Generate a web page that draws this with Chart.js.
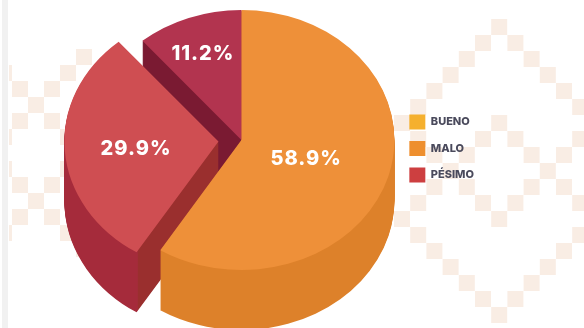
<!DOCTYPE html>
<html>
<head>
<meta charset="utf-8">
<style>
  html, body { margin: 0; padding: 0; background: #fff; }
  #wrap { width: 584px; height: 328px; position: relative; overflow: hidden; }
</style>
<script src="https://cdn.jsdelivr.net/npm/chart.js@4"></script>
</head>
<body>
<div id="wrap"><canvas id="pieChart" width="584" height="328"></canvas></div>
<script>
const labels = ['BUENO', 'MALO', 'PÉSIMO'];
const values = [58.9, 29.9, 11.2];
const sliceColors = ['#ee9039', '#cf4e52', '#b2344f'];
const sideColors = ['#dd812a', '#a52b3b', '#7a1a32'];
const cutColors = ['#dd812a', '#9a2f2e', '#7a1a32'];
const legendColors = ['#f5b02e', '#ee8f2e', '#cd3f40'];
const labelRadius = [0.44, 0.54, 0.73];
const explode = [0, 92, 0];

// background diamonds, [column, row] on a 16px grid
const rightCells = [[6,0],[5,1],[7,1],[4,2],[8,2],[3,3],[9,3],[2,4],[10,4],[1,5],[11,5],[0,6],[6,6],[1,7],[5,7],[7,7],[11,7],
  [2,8],[4,8],[8,8],[10,8],[3,9],[9,9],[2,10],[4,10],[8,10],[10,10],[1,11],[5,11],[7,11],[11,11],[0,12],[6,12],
  [1,13],[11,13],[2,14],[10,14],[3,15],[9,15],[4,16],[8,16],[5,17],[7,17],[6,18]];
const leftCells = [[5,2],[4,3],[0,3],[3,4],[1,4],[2,5],[3,6],[1,6],[0,7],[4,7],[4,9],[0,9],[1,10],[3,10],[2,11],[1,12],[3,12],[0,13],[4,13],[5,14]];

const squash = 0.85;
const depth = 60;
const pieCenterY = 140;

const backdrop = {
    id: 'backdrop',
    beforeDraw(chart) {
        const ctx = chart.ctx;
        ctx.save();
        ctx.fillStyle = '#f9ede4';
        rightCells.forEach(c => ctx.fillRect(394 + c[0] * 16.2, 19 + c[1] * 16, 16, 16));
        leftCells.forEach(c => {
            const x = -4 + c[0] * 16;
            ctx.fillRect(Math.max(x, 9), 17 + c[1] * 16, x < 9 ? x + 16 - 9 : 16, 16);
        });
        // grey strip down the left edge
        ctx.fillStyle = '#f1f1f1';
        ctx.fillRect(2, 0, 6, 328);
        ctx.restore();
    }
};

// squashes the pie into an ellipse and extrudes it downwards
const tilt = {
    id: 'tilt',
    beforeDatasetsDraw(chart) {
        const ctx = chart.ctx;
        const arcs = chart.getDatasetMeta(0).data;
        const cx = arcs[0].x, cy = arcs[0].y;
        ctx.save();
        ctx.translate(cx, pieCenterY);
        ctx.scale(1, squash);
        ctx.translate(-cx, -cy);
        [2, 1, 0].forEach(i => {
            const arc = arcs[i];
            const opts = arc.options;
            // outer wall and cut face meet under the slice's lower corner
            // (arc.draw applies the explode shift, so it stays out of this x)
            const cornerX = arc.x + Math.cos(arc.startAngle) * arc.outerRadius;
            const side = ctx.createLinearGradient(cornerX, 0, cornerX + 1, 0);
            side.addColorStop(0, sideColors[i]);
            side.addColorStop(1, cutColors[i]);
            arc.options = Object.assign({}, opts, { backgroundColor: side, borderWidth: 0 });
            for (let d = depth; d > 0; d--) {
                ctx.save();
                ctx.translate(0, d / squash);
                arc.draw(ctx);
                ctx.restore();
            }
            arc.options = opts;
        });
    },
    afterDatasetsDraw(chart) {
        const ctx = chart.ctx;
        ctx.restore();
        const arcs = chart.getDatasetMeta(0).data;
        ctx.save();
        ctx.fillStyle = '#fff';
        ctx.font = '800 20px Inter';
        ctx.letterSpacing = '1px';
        ctx.textAlign = 'center';
        ctx.textBaseline = 'middle';
        arcs.forEach((arc, i) => {
            const mid = (arc.startAngle + arc.endAngle) / 2;
            const r = arc.outerRadius * labelRadius[i] + explode[i] / 4;
            const x = arc.x + Math.cos(mid) * r;
            const y = pieCenterY + Math.sin(mid) * r * squash + 3;
            ctx.fillText(values[i].toFixed(1) + '%', x, y);
        });
        ctx.restore();
    }
};

new Chart(document.getElementById('pieChart'), {
    type: 'pie',
    data: {
        labels: labels,
        datasets: [{
            data: values,
            backgroundColor: sliceColors,
            borderWidth: 0,
            offset: explode,
            radius: 153,
            clip: false
        }]
    },
    options: {
        responsive: false,
        animation: false,
        layout: { padding: { left: 85, right: 100, bottom: 31 } },
        plugins: {
            tooltip: { enabled: false },
            legend: {
                position: 'right',
                labels: {
                    boxWidth: 16,
                    boxHeight: 15,
                    padding: 11.5,
                    font: { family: 'Inter', size: 11, weight: '800' },
                    generateLabels: () => labels.map((t, i) => ({
                        text: t,
                        fillStyle: legendColors[i],
                        strokeStyle: legendColors[i],
                        fontColor: '#4a4a5c',
                        lineWidth: 0,
                        index: i
                    }))
                }
            }
        }
    },
    plugins: [backdrop, tilt]
});
</script>
</body>
</html>
